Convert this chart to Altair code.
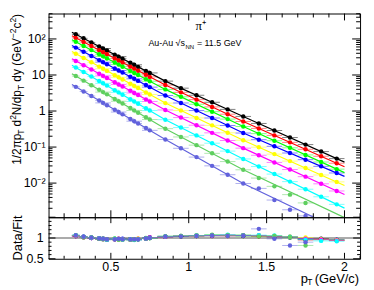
import altair as alt
import pandas as pd

# ---------------- data ----------------
names = ["0-5%", "5-10%", "10-20%", "20-30%", "30-40%", "40-50%", "50-60%", "60-70%", "70-80%"]
colors = ["#000000", "#ff0000", "#00ff00", "#0000ff", "#ffff00", "#ff00ff", "#00ffff", "#5fcf5f", "#6262dc"]

pt = [0.275, 0.325, 0.375, 0.425, 0.45, 0.475, 0.525, 0.55, 0.575, 0.625, 0.65, 0.675, 0.725, 0.75,
      0.85, 0.95, 1.05, 1.15, 1.25, 1.35, 1.45, 1.55, 1.65, 1.75, 1.85, 1.95]
pt_err = [0.025, 0.025, 0.025, 0.025, 0.05, 0.025, 0.025, 0.05, 0.025, 0.025, 0.05, 0.025, 0.025, 0.05,
          0.05, 0.05, 0.05, 0.05, 0.05, 0.05, 0.05, 0.05, 0.05, 0.05, 0.05, 0.05]

y_black = [135, 104, 80.2, 61.8, 54.3, 47.6, 36.7, 32.3, 28.3, 21.8, 19.2, 16.8, 13.0, 11.4, 6.76, 4.31, 2.74, 1.75, 1.11, 0.708, 0.452, 0.288, 0.184, 0.117, 0.0750, 0.0479]
y_red = [107, 82.4, 63.4, 48.8, 42.8, 37.5, 28.8, 25.3, 22.2, 17.1, 15.0, 13.1, 10.1, 8.85, 5.25, 3.30, 2.07, 1.30, 0.817, 0.513, 0.329, 0.211, 0.135, 0.0867, 0.0556, 0.0356]
y_green = [83.2, 63.8, 49.0, 37.6, 32.9, 28.8, 22.1, 19.4, 17.0, 13.0, 11.4, 10.0, 7.67, 6.72, 3.98, 2.48, 1.54, 0.959, 0.597, 0.372, 0.236, 0.150, 0.0953, 0.0605, 0.0385, 0.0244]
y_blue = [57.5, 44.1, 33.8, 25.9, 22.7, 19.9, 15.2, 13.3, 11.7, 8.94, 7.83, 6.85, 5.25, 4.60, 2.69, 1.67, 1.03, 0.640, 0.396, 0.245, 0.160, 0.105, 0.0684, 0.0447, 0.0292, 0.0191]
y_yellow = [38.9, 29.6, 22.5, 17.1, 14.9, 13.0, 9.89, 8.62, 7.52, 5.71, 4.98, 4.35, 3.30, 2.88, 1.66, 1.03, 0.643, 0.400, 0.249, 0.155, 0.0993, 0.0637, 0.0408, 0.0262, 0.0168, 0.0108]
y_magenta = [24.5, 18.7, 14.2, 10.8, 9.44, 8.24, 6.27, 5.47, 4.78, 3.64, 3.17, 2.77, 2.11, 1.84, 1.07, 0.658, 0.404, 0.248, 0.152, 0.0933, 0.0592, 0.0375, 0.0238, 0.0151, 0.00955, 0.00605]
y_cyan = [16.2, 12.1, 9.08, 6.79, 5.87, 5.08, 3.80, 3.29, 2.84, 2.13, 1.84, 1.59, 1.19, 1.03, 0.575, 0.348, 0.211, 0.128, 0.0773, 0.0468, 0.0288, 0.0178, 0.0110, 0.00676, 0.00417, 0.00257]
y_green2 = [9.33, 6.97, 5.20, 3.88, 3.35, 2.90, 2.16, 1.87, 1.61, 1.21, 1.04, 0.899, 0.671, 0.580, 0.324, 0.191, 0.113, 0.0670, 0.0396, 0.0234, 0.0138, 0.00813, 0.00479, 0.00282]
y_slate = [4.68, 3.49, 2.61, 1.95, 1.68, 1.45, 1.08, 0.936, 0.809, 0.604, 0.522, 0.451, 0.337, 0.291, 0.162, 0.0925, 0.0527, 0.0301, 0.0171, 0.00977, 0.00714, 0.00339, 0.00182, 0.00123]

r_black = [1.05, 1.02, 1.00, 0.99, 0.98, 0.97, 0.98, 0.97, 0.97, 0.97, 0.97, 0.97, 0.99, 1.00, 1.03, 1.04, 1.05, 1.05, 1.06, 1.05, 1.05, 1.03, 1.02, 0.97, 0.98, 0.95]
r_red = [1.05, 1.03, 1.01, 0.98, 0.98, 0.97, 0.97, 0.98, 0.96, 0.97, 0.96, 0.98, 0.99, 1.01, 1.03, 1.04, 1.05, 1.06, 1.05, 1.06, 1.04, 1.04, 1.03, 0.95, 0.97, 0.94]
r_green = [1.06, 1.02, 1.01, 0.99, 0.97, 0.97, 0.98, 0.97, 0.97, 0.96, 0.97, 0.97, 1.00, 1.00, 1.04, 1.05, 1.06, 1.07, 1.06, 1.05, 1.06, 1.04, 1.01, 0.97, 0.96, 0.95]
r_blue = [1.05, 1.03, 1.00, 0.99, 0.98, 0.96, 0.97, 0.97, 0.98, 0.97, 0.96, 0.97, 0.99, 1.01, 1.03, 1.04, 1.05, 1.06, 1.07, 1.06, 1.05, 1.03, 1.02, 0.98, 0.97, 0.96]
r_yellow = [1.06, 1.02, 1.01, 0.98, 0.98, 0.97, 0.98, 0.96, 0.97, 0.97, 0.97, 0.98, 0.99, 1.00, 1.04, 1.05, 1.05, 1.06, 1.06, 1.07, 1.05, 1.05, 1.03, 1.01, 0.97, 0.95]
r_magenta = [1.05, 1.02, 1.00, 0.99, 0.97, 0.97, 0.97, 0.97, 0.97, 0.96, 0.96, 0.97, 0.99, 1.01, 1.03, 1.05, 1.06, 1.06, 1.07, 1.06, 1.06, 1.04, 1.02, 0.98, 0.96, 0.94]
r_cyan = [1.07, 1.03, 1.01, 0.99, 0.98, 0.96, 0.98, 0.97, 0.96, 0.97, 0.95, 0.97, 0.99, 1.00, 1.04, 1.05, 1.06, 1.07, 1.08, 1.07, 1.07, 1.06, 1.03, 0.96, 0.93, 0.92]
r_green2 = [1.06, 1.02, 1.01, 0.98, 0.97, 0.97, 0.97, 0.96, 0.97, 0.96, 0.96, 0.97, 0.99, 1.00, 1.04, 1.05, 1.06, 1.08, 1.07, 1.07, 1.04, 1.05, 1.02, 0.82]
r_slate = [1.07, 1.03, 1.01, 0.99, 0.98, 0.97, 0.97, 0.98, 0.97, 0.97, 0.97, 0.97, 0.99, 1.00, 1.04, 1.04, 1.05, 1.06, 1.05, 1.06, 1.22, 0.98, 0.82, 0.90]

fit_pt = [0.25, 0.85, 1.35, 2.0]
f_black = [154, 6.76, 0.708, 0.0382]
f_red = [122, 5.25, 0.513, 0.0285]
f_green = [94.9, 3.98, 0.372, 0.0195]
f_blue = [65.7, 2.69, 0.245, 0.0154]
f_yellow = [44.6, 1.66, 0.155, 0.00862]
f_magenta = [28.1, 1.07, 0.0933, 0.00482]
f_cyan = [18.7, 0.575, 0.0468, 0.00202]
f_green2 = [10.8, 0.324, 0.0234, 0.0011]
f_slate = [5.41, 0.162, 0.00977, 0.00044]

spectra = [y_black, y_red, y_green, y_blue, y_yellow, y_magenta, y_cyan, y_green2, y_slate]
ratios = [r_black, r_red, r_green, r_blue, r_yellow, r_magenta, r_cyan, r_green2, r_slate]
fits = [f_black, f_red, f_green, f_blue, f_yellow, f_magenta, f_cyan, f_green2, f_slate]

# axis decoration: tick values and tick labels
x_major = [0.5, 1.0, 1.5, 2.0]
x_major_lab = ["0.5", "1", "1.5", "2"]
x_minor = [0.2, 0.3, 0.4, 0.6, 0.7, 0.8, 0.9, 1.1, 1.2, 1.3, 1.4, 1.6, 1.7, 1.8, 1.9, 2.1]
y_major = [0.01, 0.1, 1, 10, 100]
y_major_lab = ["10⁻²", "10⁻¹", "1", "10", "10²"]
y_minor = [k * 10.0 ** d for d in range(-3, 3) for k in range(2, 10) if 0.00113 < k * 10.0 ** d < 508]
r_major = [0.5, 1.0, 1.5]
r_lab_vals = [0.5, 1.0]
r_lab = ["0.5", "1"]
r_minor = [0.6, 0.7, 0.8, 0.9, 1.1, 1.2, 1.3, 1.4]

# y title pieces: (text, kind) with kind n = normal, b = subscript, p = superscript
ytitle_pieces = [("1/2πp", "n"), ("T", "b"), (" d", "n"), ("2", "p"), ("N/dp", "n"), ("T", "b"),
                 (" dy (GeV", "n"), ("−2", "p"), ("c", "n"), ("2", "p"), (")", "n")]

# ---------------- tables ----------------
rows = []
for i, n in enumerate(names):
    for j in range(len(spectra[i])):
        rows.append(dict(series=n, ord=i, pt=pt[j], err=pt_err[j], y=spectra[i][j], r=ratios[i][j]))
df = pd.DataFrame(rows)
frows = []
for i, n in enumerate(names):
    for j in range(len(fit_pt)):
        frows.append(dict(series=n, fpt=fit_pt[j], fy=fits[i][j]))
fdf = pd.DataFrame(frows)
one = pd.DataFrame({"one": [1.0]})

W, H1, H2 = 315, 206, 42
FONT = "Liberation Sans"
xs = alt.Scale(domain=[0.1, 2.1], nice=False, zero=False)
ys = alt.Scale(type="log", domain=[0.00113, 508], nice=False)
rs = alt.Scale(domain=[0.5, 1.5], nice=False, zero=False)
col = alt.Color("series:N", scale=alt.Scale(domain=names, range=colors), legend=None)

# approximate Liberation Sans advance widths (em) for laying out the composed title
EM = {"1": .556, "2": .556, "/": .278, "π": .58, "p": .556, "T": .611, " ": .278, "d": .556,
      "N": .722, "y": .5, "(": .333, "G": .778, "e": .556, "V": .667, "−": .584, "c": .5, ")": .333}


def xticks(vals, L, H, scale):
    d = alt.Chart(pd.DataFrame({"v": vals})).mark_rule(color="black", strokeWidth=1)
    x = alt.X("v:Q", scale=scale, axis=None)
    return [d.encode(x=x, y=alt.value(H), y2=alt.value(H - L)),
            d.encode(x=x, y=alt.value(0), y2=alt.value(L))]


def yticks(vals, L, scale):
    d = alt.Chart(pd.DataFrame({"v": vals})).mark_rule(color="black", strokeWidth=1)
    y = alt.Y("v:Q", scale=scale, axis=None)
    return [d.encode(y=y, x=alt.value(0), x2=alt.value(L)),
            d.encode(y=y, x=alt.value(W), x2=alt.value(W - L))]


def ylabels(vals, labs, scale, dx, size):
    return alt.Chart(pd.DataFrame({"v": vals, "t": labs})).mark_text(
        align="right", baseline="middle", font=FONT, fontSize=size, color="black").encode(
        y=alt.Y("v:Q", scale=scale, axis=None), x=alt.value(dx), text="t:N")


def txt(s, x, y, size, align="left", font=FONT, angle=0, baseline="alphabetic"):
    return alt.Chart(one).mark_text(text=s, align=align, baseline=baseline, font=font, angle=angle,
                                    fontSize=size, color="black").encode(x=alt.value(x), y=alt.value(y))


def rotated_title(pieces, x_base, y_start, size, small):
    out = []
    y = y_start
    for s, kind in pieces:
        fs = size if kind == "n" else small
        xb = x_base if kind == "n" else (x_base + 3 if kind == "b" else x_base - 5)
        lead = len(s) - len(s.lstrip(" "))
        y -= lead * EM[" "] * fs
        s = s.lstrip(" ")
        out.append(txt(s, xb, y, fs, align="left", angle=270))
        y -= sum(EM.get(ch, .556) for ch in s) * fs
    return out


# ---------------- top panel ----------------
base = alt.Chart(df).transform_calculate(lo="datum.pt - datum.err", hi="datum.pt + datum.err")
err_top = base.mark_rule(strokeWidth=1, opacity=0.5, clip=True).encode(
    x=alt.X("lo:Q", scale=xs, axis=None), x2="hi:Q",
    y=alt.Y("y:Q", scale=ys, axis=None), color=col)
fit_top = alt.Chart(fdf).mark_line(strokeWidth=1.2, clip=True).encode(
    x=alt.X("fpt:Q", scale=xs, axis=None), y=alt.Y("fy:Q", scale=ys, axis=None),
    color=col, detail="series:N")
pts_top = base.mark_circle(size=20, opacity=1, clip=True).encode(
    x=alt.X("pt:Q", scale=xs, axis=None), y=alt.Y("y:Q", scale=ys, axis=None), color=col)

top_layers = [err_top, fit_top, pts_top]
top_layers += xticks(x_minor, 4, H1, xs) + xticks(x_major, 7, H1, xs)
top_layers += yticks(y_minor, 4, ys) + yticks(y_major, 8, ys)
top_layers += [ylabels(y_major, y_major_lab, ys, -3, 12.5)]
top_layers += rotated_title(ytitle_pieces, -27.5, 153, 12, 8.5)
top_layers += [
    txt("π⁺", 154, 17, 13, align="center", font="Liberation Serif"),
    txt("Au-Au √s", 101, 33, 9),
    txt("NN", 138.5, 35.5, 6),
    txt("= 11.5 GeV", 150, 33, 9),
]
top = alt.layer(*top_layers).properties(width=W, height=H1)

# ---------------- ratio panel ----------------
unity = alt.Chart(one).mark_rule(color="#555555", strokeWidth=1).encode(
    y=alt.Y("one:Q", scale=rs, axis=None))
err_bot = base.mark_rule(strokeWidth=1, opacity=0.5, clip=True).encode(
    x=alt.X("lo:Q", scale=xs, axis=None), x2="hi:Q",
    y=alt.Y("r:Q", scale=rs, axis=None), color=col)
pts_bot = base.mark_circle(size=20, opacity=1, clip=True).encode(
    x=alt.X("pt:Q", scale=xs, axis=None), y=alt.Y("r:Q", scale=rs, axis=None), color=col)
xlabs = alt.Chart(pd.DataFrame({"v": x_major, "t": x_major_lab})).mark_text(
    align="center", baseline="top", font=FONT, fontSize=12.5, color="black").encode(
    x=alt.X("v:Q", scale=xs, axis=None), y=alt.value(H2 + 2), text="t:N")

bot_layers = [unity, err_bot, pts_bot]
bot_layers += xticks(x_minor, 3, H2, xs) + xticks(x_major, 6, H2, xs)
bot_layers += yticks(r_minor, 3, rs) + yticks(r_major, 7, rs)
bot_layers += [
    xlabs,
    ylabels(r_lab_vals, r_lab, rs, -5, 12.5),
    txt("Data/Fit", -31, H2 / 2, 13, align="center", angle=270, baseline="middle"),
    txt("p", 255, 66, 13),
    txt("T", 261.5, 69, 8.5),
    txt("(GeV/c)", 314, 66, 13, align="right"),
]
bottom = alt.layer(*bot_layers).properties(width=W, height=H2)

chart = alt.vconcat(top, bottom, spacing=0, bounds="flush").properties(
    padding={"left": 0, "top": 3, "right": 5, "bottom": 0}
).configure_view(stroke="black", strokeWidth=1)

chart.save("out.html", embed_options={"renderer": "svg", "actions": False})
